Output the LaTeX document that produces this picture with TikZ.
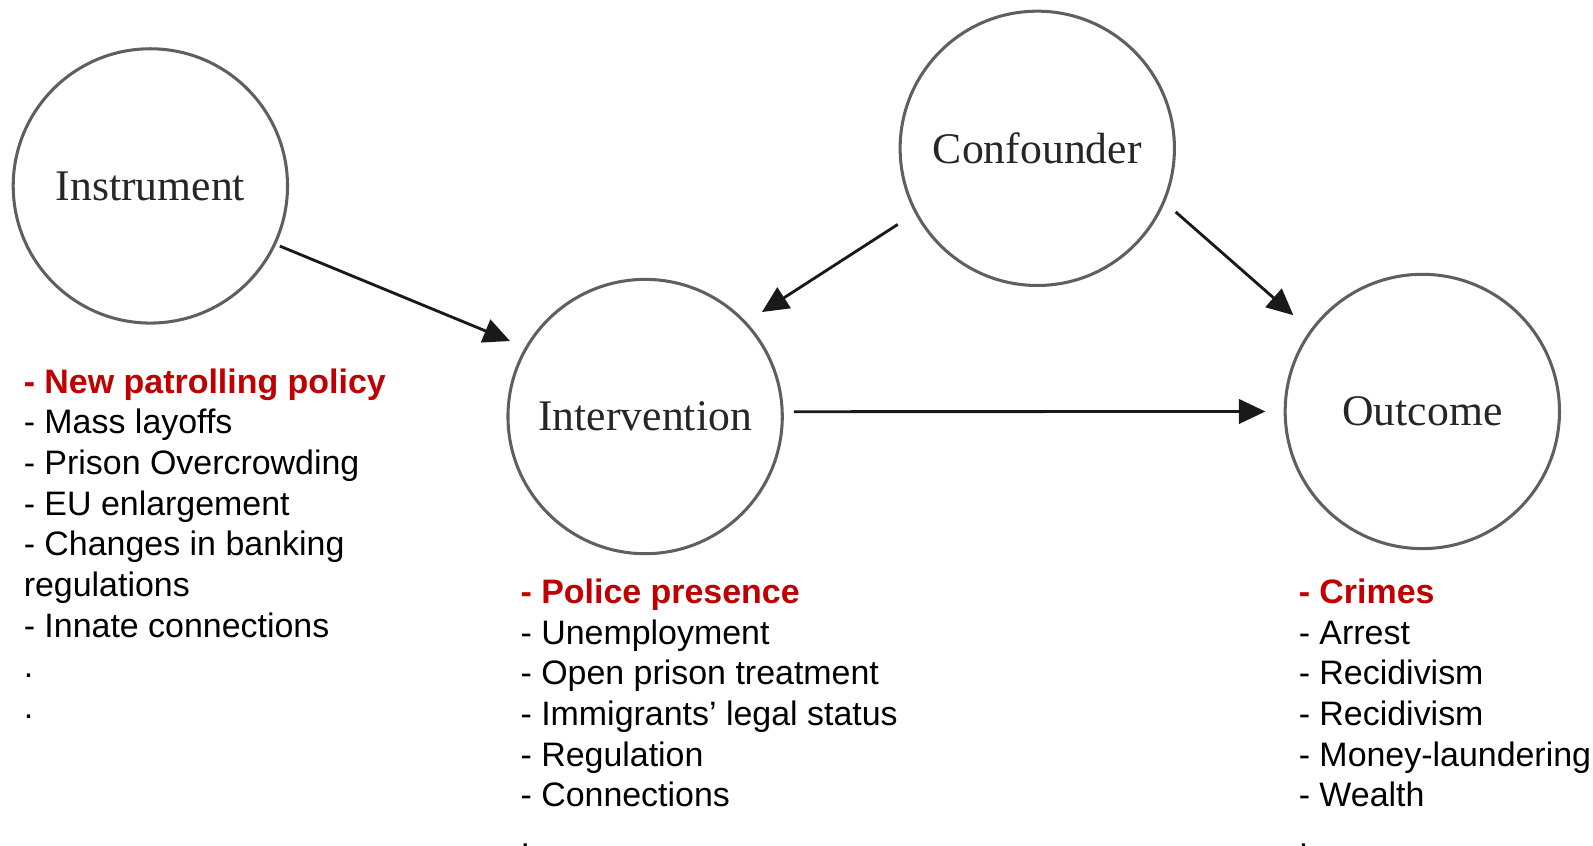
\documentclass[tikz,border=0pt]{standalone}
\usepackage{fontspec}
\setmainfont{Liberation Serif}
\setsansfont{Liberation Sans}
\usetikzlibrary{arrows.meta}
\definecolor{hilite}{RGB}{192,0,0}
\definecolor{ringgray}{RGB}{95,95,95}

\tikzset{
  var/.style={circle, draw=ringgray, line width=1.5pt, minimum size=135pt,
    inner sep=0pt, text=black!85, font=\fontsize{21.5}{25}\selectfont},
  link/.style={line width=1.4pt, black!90,
    -{Triangle[length=13pt,width=12pt]}},
  % anchored at the baseline of the last line
  examples/.style={anchor=base west, inner sep=0pt, align=left,
    font=\sffamily\fontsize{16.7}{20}\selectfont}
}

\begin{document}
\begin{tikzpicture}[x=1pt,y=1pt]
\useasboundingbox (0,0) rectangle (784,416);

% The four variables
\node[var] (ins) at (74,324.5) {Instrument};
\node[var] (con) at (510.5,343) {Confounder};
\node[var] (int) at (317.5,211) {Intervention};
\node[var] (out) at (700,213.5) {Outcome};

% Causal arrows
\draw[link, shorten <=2pt, shorten >=8pt] (ins.-25) -- (int.150);
\draw[link, shorten <=10pt, shorten >=9pt] (con.208) -- (int.43);
\draw[link, shorten <=7pt, shorten >=11pt] (con.-23) -- (out.144);
\draw[link, shorten <=5pt, shorten >=9pt] (int.2) -- (out.180);

% Examples under each variable
\node[examples] (insex) at (11.5,62.5) {\textcolor{hilite}{\bfseries - New patrolling policy}\\
  - Mass layoffs\\
  - Prison Overcrowding\\
  - EU enlargement\\
  - Changes in banking\\
  regulations\\
  - Innate connections\\
  .\\
  .};
\node[examples] (intex) at (256,-1) {\textcolor{hilite}{\bfseries - Police presence}\\
  - Unemployment\\
  - Open prison treatment\\
  - Immigrants’ legal status\\
  - Regulation\\
  - Connections\\
  .};
\node[examples] (outex) at (639,-1) {\textcolor{hilite}{\bfseries - Crimes}\\
  - Arrest\\
  - Recidivism\\
  - Recidivism\\
  - Money-laundering\\
  - Wealth\\
  .};

\end{tikzpicture}
\end{document}
